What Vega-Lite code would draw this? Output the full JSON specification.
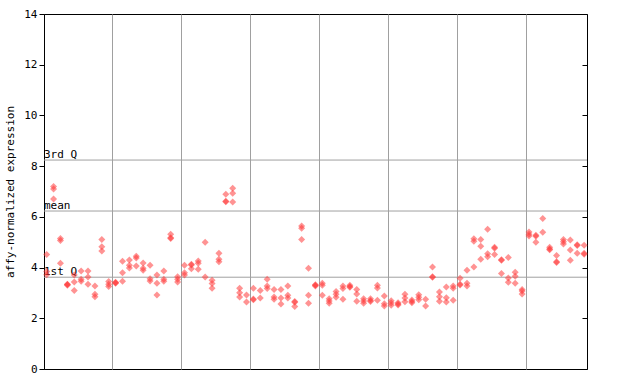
{
  "$schema": "https://vega.github.io/schema/vega-lite/v6.json",
  "width": 543,
  "height": 355,
  "autosize": {"type": "none"},
  "padding": {"left": 44, "top": 14, "right": 53, "bottom": 15},
  "background": "white",
  "config": {
    "view": {"stroke": "black", "strokeWidth": 1},
    "font": "DejaVu Sans Mono"
  },
  "datasets": {
    "pts": [
      {"i":0,"v":4.52},{"i":0,"v":3.85},{"i":0,"v":3.72},
      {"i":1,"v":7.2},{"i":1,"v":7.1},{"i":1,"v":6.7},
      {"i":2,"v":5.15},{"i":2,"v":5.07},{"i":2,"v":4.17},
      {"i":3,"v":3.34},{"i":3,"v":3.33},{"i":3,"v":3.3},
      {"i":4,"v":3.71},{"i":4,"v":3.43},{"i":4,"v":3.1},
      {"i":5,"v":3.86},{"i":5,"v":3.54},{"i":5,"v":3.46},
      {"i":6,"v":3.86},{"i":6,"v":3.63},{"i":6,"v":3.34},
      {"i":7,"v":3.27},{"i":7,"v":2.95},{"i":7,"v":2.85},
      {"i":8,"v":5.11},{"i":8,"v":4.82},{"i":8,"v":4.65},
      {"i":9,"v":3.45},{"i":9,"v":3.34},{"i":9,"v":3.25},
      {"i":10,"v":3.4},{"i":10,"v":3.38},{"i":10,"v":3.42},
      {"i":11,"v":4.25},{"i":11,"v":3.8},{"i":11,"v":3.46},
      {"i":12,"v":4.3},{"i":12,"v":4.09},{"i":12,"v":3.98},
      {"i":13,"v":4.45},{"i":13,"v":4.38},{"i":13,"v":4.06},
      {"i":14,"v":4.18},{"i":14,"v":3.97},{"i":14,"v":3.89},
      {"i":15,"v":4.09},{"i":15,"v":3.56},{"i":15,"v":3.47},
      {"i":16,"v":3.71},{"i":16,"v":3.38},{"i":16,"v":2.92},
      {"i":17,"v":3.86},{"i":17,"v":3.54},{"i":17,"v":3.46},
      {"i":18,"v":5.31},{"i":18,"v":5.18},{"i":18,"v":5.15},
      {"i":19,"v":3.64},{"i":19,"v":3.54},{"i":19,"v":3.43},
      {"i":20,"v":4.09},{"i":20,"v":3.8},{"i":20,"v":3.71},
      {"i":21,"v":4.13},{"i":21,"v":4.1},{"i":21,"v":3.95},
      {"i":22,"v":4.26},{"i":22,"v":4.17},{"i":22,"v":3.93},
      {"i":23,"v":5.0},{"i":23,"v":3.63},
      {"i":24,"v":3.5},{"i":24,"v":3.37},{"i":24,"v":3.18},
      {"i":25,"v":4.56},{"i":25,"v":4.33},{"i":25,"v":4.23},
      {"i":26,"v":6.89},{"i":26,"v":6.62},{"i":26,"v":6.6},
      {"i":27,"v":7.13},{"i":27,"v":6.93},{"i":27,"v":6.59},
      {"i":28,"v":3.18},{"i":28,"v":3.01},{"i":28,"v":2.84},
      {"i":29,"v":2.92},{"i":29,"v":2.64},
      {"i":30,"v":3.18},{"i":30,"v":2.76},{"i":30,"v":2.73},
      {"i":31,"v":3.1},{"i":31,"v":2.8},
      {"i":32,"v":3.54},{"i":32,"v":3.27},{"i":32,"v":3.17},
      {"i":33,"v":3.14},{"i":33,"v":2.84},{"i":33,"v":2.75},
      {"i":34,"v":3.14},{"i":34,"v":2.8},{"i":34,"v":2.56},
      {"i":35,"v":3.27},{"i":35,"v":2.91},{"i":35,"v":2.8},
      {"i":36,"v":2.66},{"i":36,"v":2.63},{"i":36,"v":2.46},
      {"i":37,"v":5.64},{"i":37,"v":5.55},{"i":37,"v":5.11},
      {"i":38,"v":3.97},{"i":38,"v":2.91},{"i":38,"v":2.59},
      {"i":39,"v":3.32},{"i":39,"v":3.27},{"i":39,"v":3.3},
      {"i":40,"v":3.38},{"i":40,"v":3.3},{"i":40,"v":2.91},
      {"i":41,"v":2.77},{"i":41,"v":2.68},{"i":41,"v":2.59},
      {"i":42,"v":3.06},{"i":42,"v":2.95},{"i":42,"v":2.83},
      {"i":43,"v":3.27},{"i":43,"v":3.17},{"i":43,"v":2.75},
      {"i":44,"v":3.3},{"i":44,"v":3.25},{"i":44,"v":3.22},
      {"i":45,"v":3.14},{"i":45,"v":2.96},{"i":45,"v":2.67},
      {"i":46,"v":2.77},{"i":46,"v":2.68},{"i":46,"v":2.59},
      {"i":47,"v":2.77},{"i":47,"v":2.7},{"i":47,"v":2.66},
      {"i":48,"v":3.3},{"i":48,"v":3.19},{"i":48,"v":2.71},
      {"i":49,"v":2.88},{"i":49,"v":2.57},{"i":49,"v":2.48},
      {"i":50,"v":2.69},{"i":50,"v":2.6},{"i":50,"v":2.51},
      {"i":51,"v":2.61},{"i":51,"v":2.52},{"i":51,"v":2.56},
      {"i":52,"v":2.95},{"i":52,"v":2.8},{"i":52,"v":2.65},
      {"i":53,"v":2.72},{"i":53,"v":2.61},{"i":53,"v":2.66},
      {"i":54,"v":2.93},{"i":54,"v":2.83},{"i":54,"v":2.73},
      {"i":55,"v":2.75},{"i":55,"v":2.48},
      {"i":56,"v":4.02},{"i":56,"v":3.64},{"i":56,"v":3.62},
      {"i":57,"v":3.04},{"i":57,"v":2.85},{"i":57,"v":2.67},
      {"i":58,"v":3.23},{"i":58,"v":2.81},{"i":58,"v":2.64},
      {"i":59,"v":3.27},{"i":59,"v":3.18},{"i":59,"v":2.71},
      {"i":60,"v":3.58},{"i":60,"v":3.34},{"i":60,"v":3.31},
      {"i":61,"v":3.89},{"i":61,"v":3.38},{"i":61,"v":3.27},
      {"i":62,"v":5.14},{"i":62,"v":5.04},{"i":62,"v":4.02},
      {"i":63,"v":5.11},{"i":63,"v":4.84},{"i":63,"v":4.33},
      {"i":64,"v":5.51},{"i":64,"v":4.55},{"i":64,"v":4.43},
      {"i":65,"v":4.8},{"i":65,"v":4.76},{"i":65,"v":4.52},
      {"i":66,"v":4.31},{"i":66,"v":4.29},{"i":66,"v":3.77},
      {"i":67,"v":4.4},{"i":67,"v":3.59},{"i":67,"v":3.42},
      {"i":68,"v":3.82},{"i":68,"v":3.66},{"i":68,"v":3.38},
      {"i":69,"v":3.14},{"i":69,"v":3.08},{"i":69,"v":2.96},
      {"i":70,"v":5.4},{"i":70,"v":5.31},{"i":70,"v":5.25},
      {"i":71,"v":5.27},{"i":71,"v":5.24},{"i":71,"v":5.0},
      {"i":72,"v":5.94},{"i":72,"v":5.39},
      {"i":73,"v":4.8},{"i":73,"v":4.73},{"i":73,"v":4.7},
      {"i":74,"v":4.48},{"i":74,"v":4.23},{"i":74,"v":4.2},
      {"i":75,"v":5.11},{"i":75,"v":5.02},{"i":75,"v":4.93},
      {"i":76,"v":5.09},{"i":76,"v":4.69},{"i":76,"v":4.29},
      {"i":77,"v":4.9},{"i":77,"v":4.87},{"i":77,"v":4.56},
      {"i":78,"v":4.88},{"i":78,"v":4.56},{"i":78,"v":4.53}
    ],
    "stats": [
      {"label": "3rd Q", "v": 8.24},
      {"label": "mean", "v": 6.23},
      {"label": "1st Q", "v": 3.62}
    ]
  },
  "layer": [
    {
      "data": {"name": "stats"},
      "mark": {"type": "rule", "color": "#a0a0a0", "strokeWidth": 1},
      "encoding": {
        "y": {"field": "v", "type": "quantitative", "scale": {"domain": [0, 14], "nice": false, "zero": false},
          "axis": {"values": [0,2,4,6,8,10,12,14], "grid": false, "domainColor": "black", "tickColor": "black", "tickSize": 5,
            "labelFont": "DejaVu Sans Mono", "labelFontSize": 11, "labelColor": "black", "labelPadding": 2,
            "title": "affy-normalized expression", "titleFont": "DejaVu Sans Mono", "titleFontSize": 11, "titleFontWeight": "normal", "titleColor": "black", "titlePadding": 8}}
      }
    },
    {
      "data": {"name": "stats"},
      "mark": {"type": "text", "align": "left", "baseline": "bottom", "dy": 0, "font": "DejaVu Sans Mono", "fontSize": 11, "color": "black"},
      "encoding": {
        "x": {"datum": -0.39, "type": "quantitative"},
        "y": {"field": "v", "type": "quantitative", "axis": null},
        "text": {"field": "label"}
      }
    },
    {
      "data": {"name": "pts"},
      "mark": {"type": "point", "shape": "diamond", "size": 49, "filled": true, "color": "#ff3b3b", "opacity": 0.55, "strokeWidth": 0},
      "encoding": {
        "x": {"field": "i", "type": "quantitative", "scale": {"domain": [-0.39, 78.42], "nice": false, "zero": false},
          "axis": {"values": [9.5,19.5,29.5,39.5,49.5,59.5,69.5], "grid": true, "gridColor": "#a0a0a0", "gridOpacity": 1, "gridWidth": 1,
            "labels": false, "ticks": false, "domain": false, "title": null}},
        "y": {"field": "v", "type": "quantitative", "axis": null}
      }
    },
    {
      "data": {"name": "stats"},
      "mark": {"type": "rule", "opacity": 0},
      "encoding": {
        "y": {"field": "v", "type": "quantitative",
          "axis": {"orient": "right", "values": [0,2,4,6,8,10,12,14], "grid": false, "labels": false, "domain": false, "tickColor": "black", "tickSize": -5, "title": null}}
      }
    }
  ],
  "resolve": {"axis": {"y": "independent"}}
}
